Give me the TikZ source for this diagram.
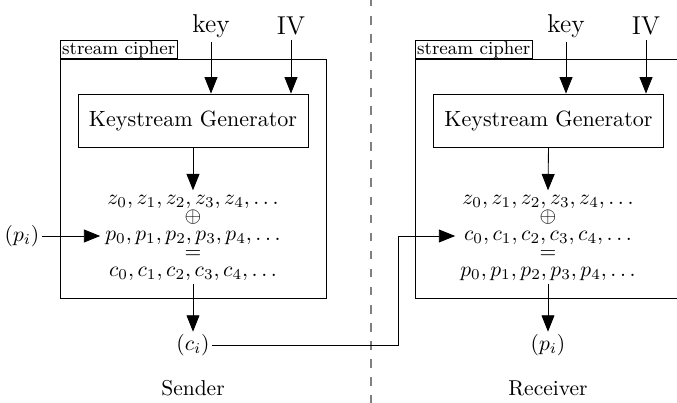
\documentclass[tikz,border=0pt]{standalone}
\usetikzlibrary{arrows.meta}
\newcommand{\streamlines}[3]{\renewcommand{\arraystretch}{0.7}$\begin{array}{@{}c@{}}#1\\\oplus\\#2\\=\\#3\end{array}$}
\begin{document}
\begin{tikzpicture}[x=0.465pt,y=-0.465pt,
  arr/.style={-{Triangle[length=7.6pt,width=6pt]}},
  outerbox/.style={draw,minimum width=266*0.465pt,minimum height=239*0.465pt,inner sep=0pt},
  tagbox/.style={draw,inner xsep=1pt,inner ysep=0.2pt,font=\fontsize{8.6}{10}\selectfont,anchor=south west},
  kgbox/.style={draw,minimum width=230*0.465pt,minimum height=53*0.465pt,inner sep=0pt,font=\fontsize{10.25}{12}\selectfont},
  inlabel/.style={font=\large,inner sep=2pt},
  endlabel/.style={inner sep=1pt},
  streamtext/.style={inner xsep=2.2pt,inner ysep=0.5pt},
  sep/.style={gray,line width=0.6pt,dash pattern=on 4pt off 4.4pt,dash phase=1pt}]
\clip (0,0) rectangle (677,403);
% ---------- Sender ----------
\node[outerbox] (boxL) at (193,178.5) {};
\node[tagbox] (tagL) at (boxL.north west) {stream cipher};
\node[kgbox] (kgL) at (193,120.5) {Keystream Generator};
\node[inlabel] (keyL) at (211,26) {key};
\node[inlabel] (ivL) at (291,26) {IV};
\node[streamtext] (stL) at (193,237) {\streamlines{z_0, z_1, z_2, z_3, z_4, \ldots}{p_0, p_1, p_2, p_3, p_4, \ldots}{c_0, c_1, c_2, c_3, c_4, \ldots}};
\node[endlabel] (pinL) at (22,236) {$(p_i)$};
\node[endlabel] (ciL) at (193,345) {$(c_i)$};
\node (sender) at (193,388) {Sender};
\draw[arr] (keyL.south) -- (keyL.south |- kgL.north);
\draw[arr] (ivL.south) -- (ivL.south |- kgL.north);
\draw[arr] (kgL.south) -- (stL.north);
\draw[arr] (pinL.east) -- (pinL.east -| stL.west);
\draw[arr] (stL.south) -- (ciL.north);
% ---------- separator ----------
\coordinate (sepTop) at (371,0);
\coordinate (sepBot) at (371,403);
\draw[sep] (sepTop) -- (sepBot);
% ---------- Receiver ----------
\node[outerbox] (boxR) at (548,178.5) {};
\node[tagbox] (tagR) at (boxR.north west) {stream cipher};
\node[kgbox] (kgR) at (548.5,120.5) {Keystream Generator};
\node[inlabel] (keyR) at (566,26) {key};
\node[inlabel] (ivR) at (646,26) {IV};
\node[streamtext] (stR) at (548,237) {\streamlines{z_0, z_1, z_2, z_3, z_4, \ldots}{c_0, c_1, c_2, c_3, c_4, \ldots}{p_0, p_1, p_2, p_3, p_4, \ldots}};
\node[endlabel] (poutR) at (548,345) {$(p_i)$};
\node (receiver) at (548,388) {Receiver};
\draw[arr] (keyR.south) -- (keyR.south |- kgR.north);
\draw[arr] (ivR.south) -- (ivR.south |- kgR.north);
\draw[arr] (kgR.south) -- (stR.north);
\draw[arr] (stR.south) -- (poutR.north);
% ---------- channel ----------
\coordinate (turn) at (398,345);
\coordinate (feedR) at (398,236);
\draw[arr] (ciL.east) -- (ciL.east -| turn) -- (feedR) -- (feedR -| stR.west);
\end{tikzpicture}
\end{document}
